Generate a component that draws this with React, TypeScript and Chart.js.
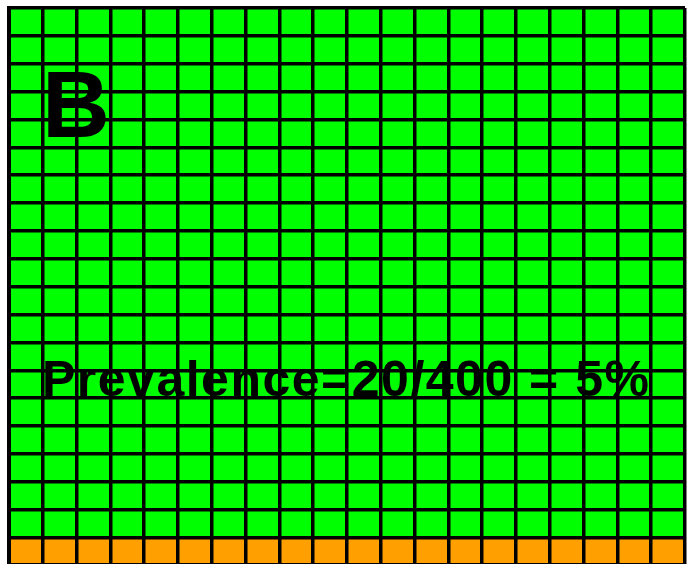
import React, { useEffect, useRef } from "react";
import { Chart, registerables } from "chart.js";

Chart.register(...registerables);

// 20 x 20 grid: each column holds 1 case (orange) and 19 non-cases (green)
const columns = ["1","2","3","4","5","6","7","8","9","10","11","12","13","14","15","16","17","18","19","20"];
const casesPerColumn = [1,1,1,1,1,1,1,1,1,1,1,1,1,1,1,1,1,1,1,1];
const nonCasesPerColumn = [19,19,19,19,19,19,19,19,19,19,19,19,19,19,19,19,19,19,19,19];
const totalRows = 20;
const panelLabel = "B";
const prevalenceText = "Prevalence=20/400 = 5%";

export default function App() {
  const ref = useRef<HTMLCanvasElement | null>(null);
  useEffect(() => {
    document.body.style.margin = "0";
    const ctx = ref.current!;
    const chart = new Chart(ctx, {
      type: "bar",
      data: {
        labels: columns,
        datasets: [
          { label: "Cases", data: casesPerColumn, backgroundColor: "#FF9F00", borderWidth: 0, barPercentage: 1, categoryPercentage: 1 },
          { label: "Non-cases", data: nonCasesPerColumn, backgroundColor: "#00FF00", borderWidth: 0, barPercentage: 1, categoryPercentage: 1 },
        ],
      },
      options: {
        responsive: false,
        animation: false,
        devicePixelRatio: 1,
        layout: { padding: { left: 9, right: 3, top: 8, bottom: 4.6 } },
        plugins: { legend: { display: false }, tooltip: { enabled: false }, title: { display: false } },
        scales: {
          x: {
            type: "category",
            stacked: true,
            offset: true,
            grid: { offset: true, color: "#000", lineWidth: 3.5, drawTicks: false, z: 1 },
            border: { color: "#000", width: 4, z: 1 },
            ticks: { display: false, autoSkip: false },
            afterFit: (s: any) => { s.height = 0; },
          },
          y: {
            type: "linear",
            stacked: true,
            min: 0,
            max: totalRows,
            grid: { color: "#000", lineWidth: 3.5, drawTicks: false, z: 1 },
            border: { color: "#000", width: 4, z: 1 },
            ticks: { display: false, stepSize: 1, maxTicksLimit: 30 },
            afterFit: (s: any) => { s.width = 0; },
          },
        },
      },
    });
    return () => chart.destroy();
  }, []);
  return (
    <div style={{ position: "absolute", left: 0, top: 0, width: 688, height: 570, overflow: "hidden" }}>
      <canvas ref={ref} width={688} height={570} style={{ width: 688, height: 570, display: "block" }} />
      <div style={{ position: "absolute", left: 42, top: 58, fontFamily: "'Liberation Sans', Arial, sans-serif", fontWeight: "bold", fontSize: 94, lineHeight: 1, color: "#000", whiteSpace: "nowrap" }}>{panelLabel}</div>
      <div style={{ position: "absolute", left: 42, top: 353.7, fontFamily: "'Liberation Sans', Arial, sans-serif", fontWeight: "bold", fontSize: 50, lineHeight: 1, letterSpacing: "1.5px", color: "#000", whiteSpace: "nowrap" }}>{prevalenceText}</div>
    </div>
  );
}
